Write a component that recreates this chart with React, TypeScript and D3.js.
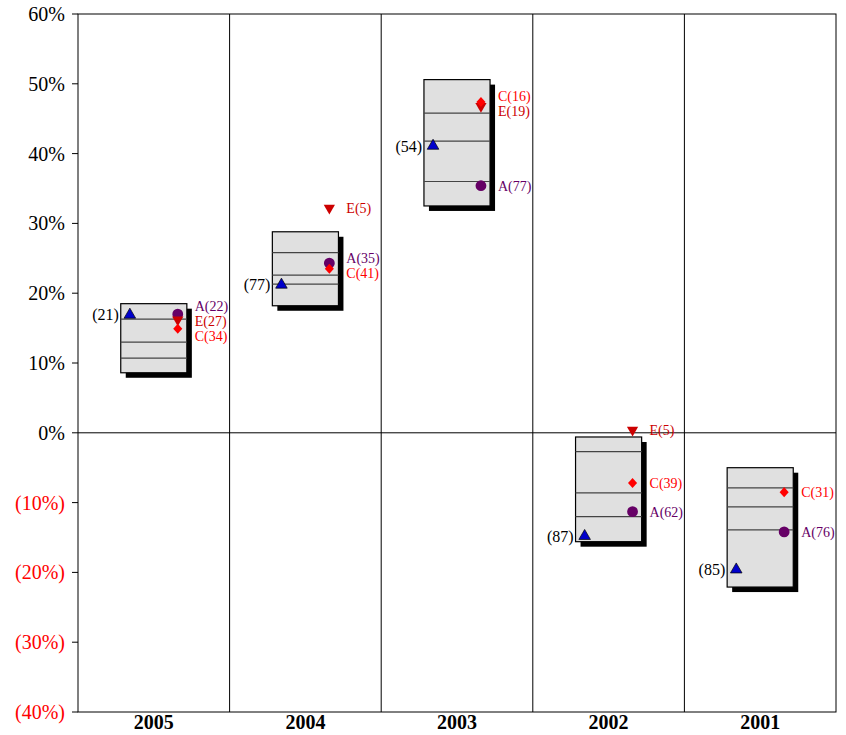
import React from 'react';
import * as d3 from 'd3';

const years = ['2005', '2004', '2003', '2002', '2001'];
const boxTop = [18.5, 28.8, 50.6, -0.6, -5.0];
const boxBottom = [8.6, 18.2, 32.5, -15.6, -22.1];
const boxQ75 = [16.3, 25.8, 45.8, -2.7, -7.9];
const boxMedian = [13.0, 22.6, 41.8, -8.6, -10.6];
const boxQ25 = [10.7, 21.3, 36.0, -12.0, -13.9];

const benchValues = [16.9, 21.2, 41.1, -14.8, -19.6];
const benchRanks = [21, 77, 54, 87, 85];
const aValues = [17.0, 24.3, 35.4, -11.3, -14.2];
const aRanks = [22, 35, 77, 62, 76];
const eValues: (number | null)[] = [16.2, 32.2, 46.8, 0.4, null];
const eRanks: (number | null)[] = [27, 5, 19, 5, null];
const cValues = [14.9, 23.5, 47.4, -7.2, -8.5];
const cRanks = [34, 41, 16, 39, 31];

const yTicks = [60, 50, 40, 30, 20, 10, 0, -10, -20, -30, -40];

const W = 846;
const H = 735;
const left = 78;
const right = 836;
const top = 14;
const bottom = 712;
const FONT = '"Liberation Serif", "Times New Roman", serif';

const wideDiamond = {
  draw(ctx: any, size: number) {
    const h = Math.sqrt(size) * 0.78;
    const w = h * 0.9;
    ctx.moveTo(0, -h);
    ctx.lineTo(w, 0);
    ctx.lineTo(0, h);
    ctx.lineTo(-w, 0);
    ctx.closePath();
  },
};

export default function App() {
  const x = d3.scaleBand<string>().domain(years).range([left, right]).padding(0);
  const y = d3.scaleLinear().domain([-40, 60]).range([bottom, top]);
  const bw = x.bandwidth();
  const halfBox = bw * 0.218;
  const markerOff = bw * 0.158;

  const tri = d3.symbol().type(d3.symbolTriangle).size(58)()!;
  const circ = d3.symbol().type(d3.symbolCircle).size(92)()!;
  const diam = d3.symbol().type(wideDiamond as any).size(42)()!;
  const triDown = d3.symbol().type(d3.symbolTriangle).size(55)()!;

  const tickLabel = (v: number) => (v < 0 ? `(${Math.abs(v)}%)` : `${v}%`);

  return (
    <svg width={W} height={H} style={{ position: 'absolute', left: 0, top: 0, background: '#fff' }}>
      <rect x={left} y={top} width={right - left} height={bottom - top} fill="none" stroke="#000" strokeWidth={1} />
      {years.slice(1).map((yr) => (
        <line key={yr} x1={x(yr)!} x2={x(yr)!} y1={top} y2={bottom} stroke="#000" strokeWidth={1} />
      ))}
      <line x1={left} x2={right} y1={y(0)} y2={y(0)} stroke="#000" strokeWidth={1} />
      {yTicks.map((t) => (
        <g key={t}>
          <line x1={left - 6} x2={left} y1={y(t)} y2={y(t)} stroke="#000" strokeWidth={1} />
          <text
            x={left - 13}
            y={y(t)}
            dy="0.35em"
            textAnchor="end"
            fontFamily={FONT}
            fontSize={20}
            fill={t < 0 ? '#ff0000' : '#000'}
          >
            {tickLabel(t)}
          </text>
        </g>
      ))}
      {years.map((yr) => (
        <text
          key={yr}
          x={x(yr)! + bw / 2}
          y={y(-40) + 10}
          dy="0.35em"
          textAnchor="middle"
          fontFamily={FONT}
          fontSize={20}
          fontWeight="bold"
        >
          {yr}
        </text>
      ))}
      {years.map((yr, i) => {
        const cx = x(yr)! + bw / 2;
        const x0 = cx - halfBox;
        const y0 = y(boxTop[i]);
        const h = y(boxBottom[i]) - y0;
        const lx = cx + markerOff;
        const bx = cx - markerOff;
        const pts = [
          { v: aValues[i], r: aRanks[i], key: 'A', color: '#660066', shape: 'circ' },
          { v: eValues[i], r: eRanks[i], key: 'E', color: '#cc0000', shape: 'down' },
          { v: cValues[i], r: cRanks[i], key: 'C', color: '#ff0000', shape: 'diam' },
        ].filter((p) => p.v !== null) as { v: number; r: number; key: string; color: string; shape: string }[];
        const sorted = pts.map((p) => ({ ...p, py: y(p.v) })).sort((a, b) => a.py - b.py);
        const gap = 15;
        const groups: { items: typeof sorted }[] = [];
        sorted.forEach((p) => {
          const last = groups[groups.length - 1];
          if (last) {
            const mean = d3.mean(last.items, (d) => d.py)!;
            const lastLabel = mean + ((last.items.length - 1) * gap) / 2;
            if (p.py - lastLabel < gap) {
              last.items.push(p);
              return;
            }
          }
          groups.push({ items: [p] });
        });
        const labels: { key: string; r: number; color: string; ly: number }[] = [];
        groups.forEach((g) => {
          const mean = d3.mean(g.items, (d) => d.py)!;
          const n = g.items.length;
          g.items.forEach((it, k) => {
            labels.push({ key: it.key, r: it.r, color: it.color, ly: mean + (k - (n - 1) / 2) * gap });
          });
        });
        return (
          <g key={yr}>
            <rect x={x0 + 5} y={y0 + 5} width={halfBox * 2} height={h} fill="#000" />
            <rect x={x0} y={y0} width={halfBox * 2} height={h} fill="#e0e0e0" stroke="#000" strokeWidth={1.2} />
            {[boxQ75[i], boxMedian[i], boxQ25[i]].map((q, k) => (
              <line key={k} x1={x0} x2={x0 + halfBox * 2} y1={y(q)} y2={y(q)} stroke="#444" strokeWidth={1.2} />
            ))}
            <path d={tri} transform={`translate(${bx},${y(benchValues[i])})`} fill="#0000cc" stroke="#000" strokeWidth={0.7} />
            <text x={bx - 11} y={y(benchValues[i])} dy="0.35em" textAnchor="end" fontFamily={FONT} fontSize={16} fill="#000">
              {`(${benchRanks[i]})`}
            </text>
            {pts.map((p) => {
              const py = y(p.v);
              if (p.shape === 'circ')
                return <path key={p.key} d={circ} transform={`translate(${lx},${py})`} fill={p.color} />;
              if (p.shape === 'diam')
                return <path key={p.key} d={diam} transform={`translate(${lx},${py})`} fill={p.color} />;
              return <path key={p.key} d={triDown} transform={`translate(${lx},${py}) rotate(180)`} fill={p.color} />;
            })}
            {labels.map((l) => (
              <text key={l.key} x={lx + 17} y={l.ly} dy="0.35em" fontFamily={FONT} fontSize={14} fill={l.color}>
                {`${l.key}(${l.r})`}
              </text>
            ))}
          </g>
        );
      })}
    </svg>
  );
}
